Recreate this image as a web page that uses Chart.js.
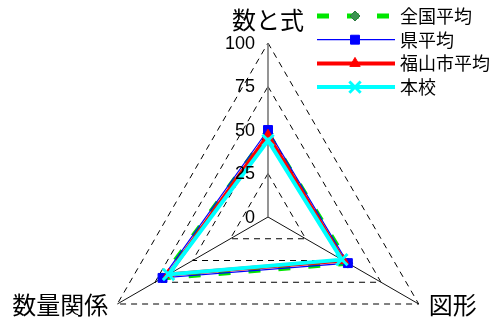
<!DOCTYPE html>
<html>
<head>
<meta charset="utf-8">
<script src="https://cdn.jsdelivr.net/npm/chart.js@4/dist/chart.umd.min.js"></script>
<style>
  html, body { margin: 0; padding: 0; background: #fff; }
</style>
</head>
<body>
<canvas id="chart" width="493" height="320"></canvas>
<script>
const categories = ['数と式', '図形', '数量関係'];
const seriesNames = ['全国平均', '県平均', '福山市平均', '本校'];
const nationalAvg = [48, 53, 70];
const prefAvg = [50, 53, 70];
const cityAvg = [47, 50, 66];
const schoolScores = [44, 49, 66];
const tickValues = [0, 25, 50, 75, 100];

const cjkFont = '"Noto Sans CJK JP", "Noto Sans", sans-serif';
const numFont = '"Liberation Sans", Arial, sans-serif';

// small marker painter, used for the custom legend
function drawMarker(ctx, ds, x, y) {
  const r = ds.pointRadius;
  ctx.save();
  ctx.fillStyle = ds.pointBackgroundColor;
  ctx.strokeStyle = ds.pointBorderColor;
  ctx.lineWidth = ds.pointBorderWidth;
  ctx.setLineDash([]);
  ctx.beginPath();
  if (ds.pointStyle === 'rect') {
    const s = Math.SQRT1_2 * r;
    ctx.rect(x - s, y - s, 2 * s, 2 * s);
    ctx.fill(); ctx.stroke();
  } else if (ds.pointStyle === 'rectRot') {
    ctx.moveTo(x, y - r); ctx.lineTo(x + r, y); ctx.lineTo(x, y + r); ctx.lineTo(x - r, y);
    ctx.closePath(); ctx.fill(); ctx.stroke();
  } else if (ds.pointStyle === 'triangle') {
    ctx.moveTo(x, y - r); ctx.lineTo(x + r * 0.866, y + r / 2); ctx.lineTo(x - r * 0.866, y + r / 2);
    ctx.closePath(); ctx.fill(); ctx.stroke();
  } else if (ds.pointStyle === 'crossRot') {
    const o = Math.SQRT1_2 * r;
    ctx.moveTo(x - o, y - o); ctx.lineTo(x + o, y + o);
    ctx.moveTo(x + o, y - o); ctx.lineTo(x - o, y + o);
    ctx.stroke();
  }
  ctx.restore();
}

const legendPlugin = {
  id: 'sideLegend',
  afterDraw(chart) {
    const ctx = chart.ctx;
    chart.data.datasets.forEach((ds, i) => {
      const y = 16 + i * 23.7;
      const x0 = 317, x1 = 395;
      ctx.save();
      ctx.strokeStyle = ds.borderColor;
      ctx.lineWidth = ds.borderWidth;
      ctx.setLineDash(ds.borderDash || []);
      ctx.beginPath();
      ctx.moveTo(x0, y);
      ctx.lineTo(x1, y);
      ctx.stroke();
      ctx.restore();
      drawMarker(ctx, ds, (x0 + x1) / 2 - 1, y);
      ctx.save();
      ctx.font = '18px ' + cjkFont;
      ctx.fillStyle = '#000';
      ctx.textAlign = 'left';
      ctx.textBaseline = 'middle';
      ctx.fillText(ds.label, 400, y);
      ctx.restore();
    });
  }
};

const labelPlugin = {
  id: 'axisText',
  afterDraw(chart) {
    const scale = chart.scales.r;
    const ctx = chart.ctx;
    ctx.save();
    // tick labels, left of the top axis
    ctx.font = '18px ' + numFont;
    ctx.fillStyle = '#000';
    ctx.textAlign = 'right';
    ctx.textBaseline = 'middle';
    tickValues.forEach(v => {
      const p = scale.getPointPositionForValue(0, v);
      ctx.fillText(String(v), p.x - 13, p.y + 1);
    });
    // category labels at the corners
    ctx.font = '24px ' + cjkFont;
    ctx.textBaseline = 'middle';
    categories.forEach((label, i) => {
      const p = scale.getPointPositionForValue(i, scale.max);
      if (i === 0) {
        ctx.textAlign = 'center';
        ctx.fillText(label, p.x, p.y - 23);
      } else if (i === 1) {
        ctx.textAlign = 'left';
        ctx.fillText(label, p.x + 10, p.y + 1);
      } else {
        ctx.textAlign = 'right';
        ctx.fillText(label, p.x - 9, p.y + 1);
      }
    });
    ctx.restore();
  }
};

new Chart(document.getElementById('chart'), {
  type: 'radar',
  data: {
    labels: categories,
    datasets: [
      {
        label: seriesNames[0],
        data: nationalAvg,
        borderColor: 'rgb(0,230,0)',
        borderWidth: 5,
        borderDash: [12, 18],
        pointStyle: 'rectRot',
        pointRadius: 5,
        pointBackgroundColor: '#3a9450',
        pointBorderColor: '#2b7a3e',
        pointBorderWidth: 1,
        fill: false,
        order: 4
      },
      {
        label: seriesNames[1],
        data: prefAvg,
        borderColor: '#0000ff',
        borderWidth: 1.2,
        pointStyle: 'rect',
        pointRadius: 6.3,
        pointBackgroundColor: '#0000ff',
        pointBorderColor: '#0000ff',
        pointBorderWidth: 1,
        fill: false,
        order: 3
      },
      {
        label: seriesNames[2],
        data: cityAvg,
        borderColor: '#ff0000',
        borderWidth: 4,
        pointStyle: 'triangle',
        pointRadius: 6,
        pointBackgroundColor: '#ff0000',
        pointBorderColor: '#ff0000',
        pointBorderWidth: 1,
        fill: false,
        order: 2
      },
      {
        label: seriesNames[3],
        data: schoolScores,
        borderColor: '#00ffff',
        borderWidth: 4,
        pointStyle: 'crossRot',
        pointRadius: 8,
        pointBackgroundColor: '#00ffff',
        pointBorderColor: '#00ffff',
        pointBorderWidth: 3,
        fill: false,
        order: 1
      }
    ]
  },
  options: {
    responsive: false,
    devicePixelRatio: 1,
    animation: false,
    elements: { line: { tension: 0 } },
    plugins: {
      legend: { display: false },
      tooltip: { enabled: false }
    },
    scales: {
      r: {
        min: 0,
        max: 100,
        ticks: { stepSize: 25, display: false },
        pointLabels: { display: false },
        grid: { color: '#000', lineWidth: 1 },
        border: { dash: [6, 5] },
        angleLines: {
          color: (c) => c.index === 0 ? '#7a7a7a' : '#111',
          lineWidth: (c) => c.index === 0 ? 1.6 : 1
        },
        afterFit: (scale) => {
          scale.xCenter = 268;
          scale.yCenter = 217;
          scale.drawingArea = 174;
        }
      }
    }
  },
  plugins: [legendPlugin, labelPlugin]
});
</script>
</body>
</html>
